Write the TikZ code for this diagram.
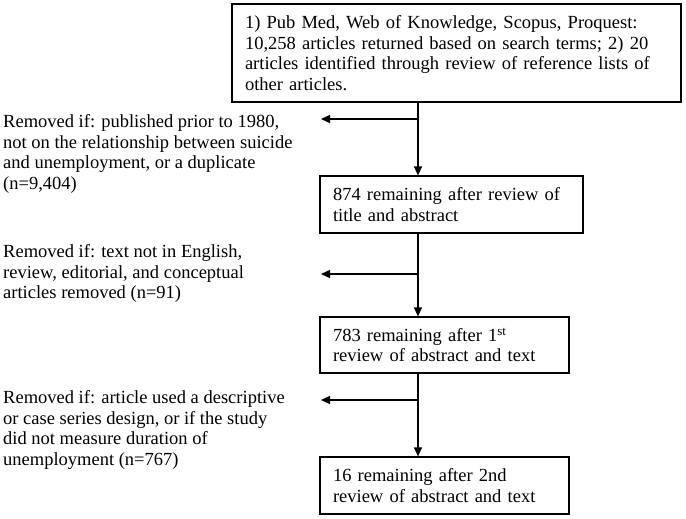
\documentclass[tikz,border=0pt]{standalone}
\usepackage{fontspec}
\setmainfont{Liberation Serif}
\usetikzlibrary{arrows.meta}
\begin{document}
\begin{tikzpicture}[x=1pt,y=-1pt,
  every node/.style={font=\fontsize{18.5}{20.5}\selectfont},
  stepbox/.style={draw,line width=1.2pt,inner xsep=13pt,inner ysep=0pt,align=left},
  note/.style={inner sep=0pt,align=left,anchor=west},
  flow/.style={line width=1.4pt,-{Triangle[length=9pt,width=8pt]}}]
\useasboundingbox (0,0) rectangle (686,519);
\node[stepbox,text width=423pt,minimum height=98pt] (top) at (456.5,53)
  {1) Pub Med, Web of Knowledge, Scopus, Proquest:\\10,258 articles returned based on search terms; 2) 20\\articles identified through review of reference lists of\\other articles.};
\node[stepbox,text width=237pt,minimum height=57pt] (b2) at (451.5,204.5)
  {874 remaining after review of\\title and abstract};
\node[stepbox,text width=223pt,minimum height=56pt] (b3) at (444.5,345)
  {783 remaining after 1\textsuperscript{st}\\review of abstract and text};
\node[stepbox,text width=223pt,minimum height=57pt] (b4) at (444.5,485.5)
  {16 remaining after 2nd\\review of abstract and text};
\node[note] (n1) at (3,154)
  {Removed if: published prior to 1980,\\not on the relationship between suicide\\and unemployment, or a duplicate\\(n=9,404)};
\node[note] (n2) at (3,273.5)
  {Removed if: text not in English,\\review, editorial, and conceptual\\articles removed (n=91)};
\node[note] (n3) at (3,430)
  {Removed if: article used a descriptive\\or case series design, or if the study\\did not measure duration of\\unemployment (n=767)};
\coordinate (s1) at (418,119);
\coordinate (s2) at (418,274);
\coordinate (s3) at (418,400);
\coordinate (t1) at (321,119);
\coordinate (t2) at (321,274);
\coordinate (t3) at (321,400);
\draw[flow] (top.south -| s1) -- (b2.north -| s1);
\draw[flow] (b2.south -| s2) -- (b3.north -| s2);
\draw[flow] (b3.south -| s3) -- (b4.north -| s3);
\draw[flow] (s1) -- (t1);
\draw[flow] (s2) -- (t2);
\draw[flow] (s3) -- (t3);
\end{tikzpicture}
\end{document}
